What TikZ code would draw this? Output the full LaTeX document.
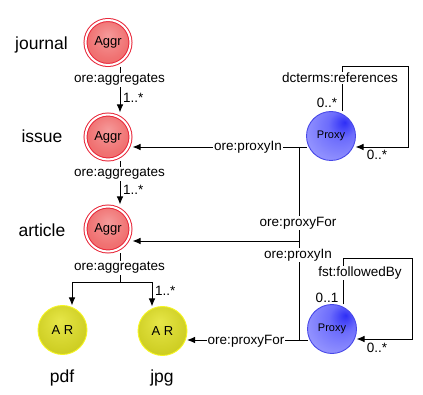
\documentclass[tikz,border=0pt]{standalone}
\usepackage{fontspec}
\setmainfont{Liberation Sans}
\usetikzlibrary{arrows.meta}
\definecolor{aggrborder}{HTML}{E8283A}
\definecolor{aggrlight}{HTML}{F59A9A}
\definecolor{aggrmid}{HTML}{F07272}
\definecolor{aggrdark}{HTML}{EC5858}
\definecolor{arborder}{HTML}{F6F622}
\definecolor{arlight}{HTML}{E6E648}
\definecolor{armid}{HTML}{D0D026}
\definecolor{ardark}{HTML}{B4B40C}
\definecolor{pxborder}{HTML}{4848E8}
\definecolor{pxdark}{HTML}{2E2EF6}
\definecolor{pxmid}{HTML}{6C6CFC}
\definecolor{pxlight}{HTML}{A8A8FF}
\pgfdeclareradialshading{aggrshade}{\pgfpoint{0bp}{8bp}}{color(0bp)=(aggrlight); color(22bp)=(aggrmid); color(50bp)=(aggrdark)}
\pgfdeclareradialshading{arshade}{\pgfpoint{-3bp}{10bp}}{color(0bp)=(arlight); color(25bp)=(armid); color(50bp)=(ardark)}
\pgfdeclareradialshading{pxshade}{\pgfpoint{14bp}{14bp}}{color(0bp)=(pxdark); color(14bp)=(pxmid); color(45bp)=(pxlight); color(70bp)=(pxlight)}
\begin{document}
\begin{tikzpicture}[x=1pt,y=-1pt,
  aggrnode/.style={circle,draw=aggrborder,line width=1pt,double=white,double distance=2pt,
    shading=aggrshade,minimum size=45pt,inner sep=0pt,outer sep=2pt,
    font=\fontsize{13}{15}\selectfont},
  arnode/.style={circle,draw=arborder,line width=0.9pt,shading=arshade,minimum size=49pt,
    inner sep=0pt,outer sep=0pt,font=\fontsize{13}{15}\selectfont},
  pxnode/.style={circle,draw=pxborder,line width=0.9pt,shading=pxshade,minimum size=49pt,
    inner sep=0pt,outer sep=0pt,font=\fontsize{11}{13}\selectfont},
  biglab/.style={anchor=base,inner sep=0pt,font=\fontsize{17.5}{20}\selectfont},
  elab/.style={fill=white,inner sep=1pt,font=\fontsize{13.5}{15}\selectfont},
  mlab/.style={inner sep=0pt,font=\fontsize{13.5}{15}\selectfont},
  conn/.style={line width=0.9pt},
  arr/.style={conn,-{Latex[length=8pt,width=6.5pt]}}]
\useasboundingbox (0,0) rectangle (423,395);
% nodes
\node[aggrnode] (journal) at (108,42.5) {Aggr};
\node[aggrnode] (issue) at (108,137) {Aggr};
\node[aggrnode] (article) at (108,229) {Aggr};
\node[arnode] (pdf) at (62.5,330) {A R};
\node[arnode] (jpg) at (162.5,331) {A R};
\node[pxnode] (pxA) at (331,136) {Proxy};
\node[pxnode] (pxB) at (332,329) {Proxy};
% big labels
\node[biglab] (ljournal) at (41.5,50) {journal};
\node[biglab] (lissue) at (42,143) {issue};
\node[biglab] (larticle) at (42,237) {article};
\node[biglab] (lpdf) at (62,382) {pdf};
\node[biglab] (ljpg) at (162,382) {jpg};
% routing coordinates
\coordinate (cx) at (120,0);
\coordinate (pdfx) at (72,0);
\coordinate (jpgx) at (152,0);
\coordinate (split) at (120,282);
\coordinate (ya) at (0,147);
\coordinate (yb) at (0,241);
\coordinate (yc) at (0,340);
\coordinate (yd) at (0,339);
\coordinate (vx) at (299.5,0);
\coordinate (loopAx) at (342,0);
\coordinate (loopAtr) at (408,66);
\coordinate (loopBx) at (343,0);
\coordinate (loopBtr) at (412,258);
\coordinate (joinA) at (vx |- ya);
\coordinate (joinB) at (vx |- yb);
\coordinate (joinC) at (vx |- yc);
% aggregation connectors
\draw[arr] (journal.south -| cx) -- (issue.north -| cx);
\draw[arr] (issue.south -| cx) -- (article.north -| cx);
\draw[conn] (article.south -| cx) -- (split);
\draw[arr] (split) -| (pdf.north -| pdfx);
\draw[arr] (split) -| (jpg.north -| jpgx);
% proxy A
\draw[arr] (pxA.west |- ya) -- (issue.east |- ya);
\draw[arr] (joinA) -- (joinB) -- (article.east |- yb);
\draw[arr] (pxA.north -| loopAx) |- (loopAtr) |- (pxA.east |- ya);
% proxy B
\draw[conn] (pxB.west |- yc) -- (joinC) -- (joinB);
\draw[arr] (pxB.west |- yc) -- (jpg.east |- yc);
\draw[arr] (pxB.north -| loopBx) |- (loopBtr) |- (pxB.east |- yd);
% edge labels
\node[elab] (e1) at (119.5,80) {ore:aggregates};
\node[mlab,anchor=west] (m1) at (123,98) {1..*};
\node[elab] (e2) at (119.5,174) {ore:aggregates};
\node[mlab,anchor=west] (m2) at (123,190) {1..*};
\node[elab] (e3) at (119.5,268) {ore:aggregates};
\node[mlab,anchor=west] (m3) at (155,291) {1..*};
\node[elab] (e4) at (248,147) {ore:proxyIn};
\node[elab] (e5) at (298,223) {ore:proxyFor};
\node[elab] (e6) at (340,78) {dcterms:references};
\node[mlab] (m4) at (327,103) {0..*};
\node[mlab] (m5) at (377,155) {0..*};
\node[elab] (e7) at (298,255) {ore:proxyIn};
\node[elab] (e8) at (360,273) {fst:followedBy};
\node[mlab] (m6) at (327,298) {0..1};
\node[mlab] (m7) at (377,348) {0..*};
\node[elab] (e9) at (246,341) {ore:proxyFor};
\end{tikzpicture}
\end{document}
